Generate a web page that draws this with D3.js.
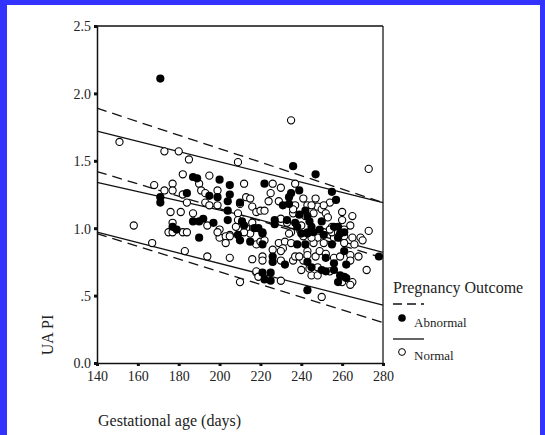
<!DOCTYPE html>
<html>
<head>
<meta charset="utf-8">
<script src="https://cdn.jsdelivr.net/npm/d3@7"></script>
<style>
  html, body { margin: 0; padding: 0; background: #fff; }
  svg text { font-family: "Liberation Serif", "DejaVu Serif", serif; fill: #222; }
</style>
</head>
<body>
<div id="chart"></div>
<script>
// Data ------------------------------------------------------------
// [gestational age (days), UA PI]
const abnormal = [
  [171, 2.11], [236, 1.46], [247, 1.40], [187, 1.38], [189, 1.37], [200, 1.36],
  [205, 1.32], [184, 1.26], [205, 1.25], [199, 1.23], [195, 1.24], [171, 1.23],
  [171, 1.19], [204, 1.20], [204, 1.13], [187, 1.05], [192, 1.07], [197, 1.04],
  [190, 1.05], [204, 1.06], [177, 1.01], [179, 0.99], [190, 0.93], [209, 0.95],
  [212, 1.02], [222, 1.33], [239, 1.28], [255, 1.27], [257, 1.21], [234, 1.23],
  [231, 1.17], [234, 1.18], [242, 1.13], [239, 1.10], [243, 1.09], [227, 1.06],
  [237, 1.04], [244, 1.05], [250, 1.05], [258, 1.01], [219, 1.00], [221, 0.97],
  [243, 0.96], [246, 0.97], [258, 0.93], [210, 0.91], [215, 0.90], [221, 0.96],
  [240, 0.96], [243, 0.97], [251, 0.95], [261, 0.97], [238, 0.88], [242, 0.88],
  [255, 0.88], [261, 0.83], [226, 0.79], [226, 0.75], [232, 0.73], [243, 0.75],
  [245, 0.71], [252, 0.78], [256, 0.74], [262, 0.73], [252, 0.68], [259, 0.65],
  [261, 0.64], [258, 0.60], [221, 0.67], [222, 0.62], [225, 0.67], [243, 0.54],
  [278, 0.79], [210, 1.19], [235, 1.26], [211, 1.05], [217, 1.00], [221, 0.88],
  [227, 1.03], [233, 1.06], [238, 1.01], [245, 1.01], [249, 0.99], [256, 1.01],
  [259, 0.96], [250, 0.69], [256, 0.69], [262, 0.63], [225, 0.61]
];
const normal = [
  [151, 1.64], [235, 1.80], [273, 1.44], [173, 1.57], [180, 1.57], [185, 1.51],
  [209, 1.49], [182, 1.40], [195, 1.39], [177, 1.33], [190, 1.33], [212, 1.33],
  [168, 1.32], [173, 1.28], [177, 1.28], [182, 1.25], [191, 1.28], [193, 1.26],
  [199, 1.28], [213, 1.23], [215, 1.22], [184, 1.19], [193, 1.19], [210, 1.18],
  [199, 1.17], [195, 1.17], [209, 1.11], [216, 1.16], [218, 1.12], [176, 1.12],
  [181, 1.12], [187, 1.11], [177, 1.04], [175, 0.97], [182, 0.97], [194, 1.02],
  [200, 0.99], [208, 1.01], [200, 0.93], [205, 0.95], [213, 1.00], [215, 0.96],
  [226, 1.33], [230, 1.30], [237, 1.33], [225, 1.26], [224, 1.20], [229, 1.20],
  [241, 1.22], [247, 1.22], [254, 1.19], [237, 1.17], [243, 1.17], [248, 1.16],
  [250, 1.14], [220, 1.13], [222, 1.13], [236, 1.11], [246, 1.11], [260, 1.12],
  [265, 1.09], [260, 1.06], [230, 1.07], [233, 1.04], [240, 1.02], [255, 1.01],
  [264, 1.02], [273, 0.98], [235, 0.97], [251, 0.97], [256, 0.93], [248, 0.93],
  [261, 0.94], [269, 0.93], [167, 0.89], [177, 0.97], [184, 0.97], [199, 0.97],
  [203, 0.94], [205, 0.94], [203, 0.89], [212, 0.97], [218, 0.88], [183, 0.83],
  [194, 0.79], [205, 0.78], [216, 0.77], [218, 0.67], [210, 0.60], [158, 1.02],
  [234, 0.96], [255, 0.97], [258, 0.97], [265, 0.93], [220, 0.90], [222, 0.91],
  [229, 0.89], [232, 0.90], [231, 0.85], [246, 0.89], [251, 0.89], [261, 0.89],
  [266, 0.88], [270, 0.91], [243, 0.83], [221, 0.79], [230, 0.76], [236, 0.76],
  [237, 0.79], [241, 0.76], [247, 0.79], [256, 0.78], [259, 0.79], [264, 0.80],
  [268, 0.79], [272, 0.69], [254, 0.68], [240, 0.69], [245, 0.65], [248, 0.65],
  [260, 0.60], [265, 0.60], [218, 0.68], [219, 0.64], [230, 0.61], [250, 0.49],
  [209, 1.06], [216, 1.04], [236, 1.14], [245, 1.17], [251, 1.17], [242, 1.09],
  [252, 1.11], [253, 1.08], [261, 0.99], [254, 0.99], [241, 0.94], [245, 0.93],
  [235, 0.89], [226, 0.84], [230, 0.83], [239, 0.79], [243, 0.80], [249, 0.83],
  [252, 0.81], [221, 0.76], [264, 0.76], [244, 0.70], [248, 0.71], [264, 0.58]
];

// reference lines (solid = normal, dashed = abnormal)
const solidLines = [
  [[140, 1.72], [280, 1.19]],
  [[140, 1.34], [210, 1.10], [280, 0.82]],
  [[140, 0.97], [280, 0.43]]
];
const dashedLines = [
  [[140, 1.89], [280, 1.19]],
  [[140, 1.42], [280, 0.78]],
  [[140, 0.96], [280, 0.30]]
];

const xTicks = [140, 160, 180, 200, 220, 240, 260, 280];
const yTicks = [0, 0.5, 1.0, 1.5, 2.0, 2.5];
const yTickLabels = ["0.0", ".5", "1.0", "1.5", "2.0", "2.5"];

// Layout ----------------------------------------------------------
const W = 545, H = 435;
const plot = { left: 97, right: 383, top: 26, bottom: 363 };

const svg = d3.select("#chart").append("svg")
  .attr("width", W).attr("height", H);

svg.append("rect").attr("width", W).attr("height", H).attr("fill", "#fff");
// blue frame of the screenshot
svg.append("rect").attr("x", 0).attr("y", 0).attr("width", W).attr("height", 5).attr("fill", "#3333ff");
svg.append("rect").attr("x", 0).attr("y", 0).attr("width", 7).attr("height", H).attr("fill", "#3333ff");
svg.append("rect").attr("x", 540).attr("y", 0).attr("width", 5).attr("height", H).attr("fill", "#3333ff");

const x = d3.scaleLinear().domain([140, 280]).range([plot.left, plot.right]);
const y = d3.scaleLinear().domain([0, 2.5]).range([plot.bottom, plot.top]);

// frame
svg.append("line").attr("x1", plot.right).attr("x2", plot.right)
  .attr("y1", plot.top).attr("y2", plot.bottom)
  .attr("stroke", "#6a6a6a").attr("stroke-width", 2);
svg.append("line").attr("x1", plot.left).attr("x2", plot.right)
  .attr("y1", plot.top).attr("y2", plot.top)
  .attr("stroke", "#111").attr("stroke-width", 1.3);

// axes
const xAxis = svg.append("g")
  .attr("transform", "translate(0," + plot.bottom + ")")
  .call(d3.axisBottom(x).tickValues(xTicks).tickSize(3).tickPadding(5));
const yAxis = svg.append("g")
  .attr("transform", "translate(" + plot.left + ",0)")
  .call(d3.axisLeft(y).tickValues(yTicks).tickSize(3).tickPadding(3)
    .tickFormat((d, i) => yTickLabels[i]));

[xAxis, yAxis].forEach(g => {
  g.select(".domain").attr("stroke", "#111").attr("stroke-width", 1.5);
  g.selectAll(".tick line").attr("stroke", "#111").attr("stroke-width", 3);
  g.selectAll(".tick text")
    .style("font-family", "'Liberation Serif', serif")
    .style("font-size", "14px").attr("fill", "#333");
});
yAxis.selectAll(".tick text").attr("dy", "0.35em");

// lines
const line = d3.line().x(d => x(d[0])).y(d => y(d[1]));
svg.selectAll(".solid").data(solidLines).enter().append("path")
  .attr("d", line).attr("fill", "none")
  .attr("stroke", "#111").attr("stroke-width", 1.3);
svg.selectAll(".dashed").data(dashedLines).enter().append("path")
  .attr("d", line).attr("fill", "none")
  .attr("stroke", "#111").attr("stroke-width", 1.3)
  .attr("stroke-dasharray", "10,6");

// points
svg.selectAll(".normal").data(normal).enter().append("circle")
  .attr("cx", d => x(d[0])).attr("cy", d => y(d[1])).attr("r", 3.6)
  .attr("fill", "#fff").attr("stroke", "#000").attr("stroke-width", 1.1);
svg.selectAll(".abnormal").data(abnormal).enter().append("circle")
  .attr("cx", d => x(d[0])).attr("cy", d => y(d[1])).attr("r", 4.1)
  .attr("fill", "#000");

// axis titles
svg.append("text")
  .attr("transform", "translate(53,335) rotate(-90)")
  .attr("text-anchor", "middle")
  .style("font-size", "16px").text("UA PI");
svg.append("text")
  .attr("x", 98).attr("y", 426)
  .style("font-size", "16px").text("Gestational age (days)");

// legend
const lg = svg.append("g");
lg.append("text").attr("x", 393).attr("y", 293)
  .style("font-size", "16px").text("Pregnancy Outcome");
lg.append("line").attr("x1", 393).attr("x2", 424).attr("y1", 304).attr("y2", 304)
  .attr("stroke", "#111").attr("stroke-width", 1.3).attr("stroke-dasharray", "9,5");
lg.append("circle").attr("cx", 402).attr("cy", 318).attr("r", 3.8).attr("fill", "#000");
lg.append("text").attr("x", 414).attr("y", 327)
  .style("font-size", "13px").text("Abnormal");
lg.append("line").attr("x1", 393).attr("x2", 424).attr("y1", 339).attr("y2", 339)
  .attr("stroke", "#111").attr("stroke-width", 1.3);
lg.append("circle").attr("cx", 402).attr("cy", 352).attr("r", 3.4)
  .attr("fill", "#fff").attr("stroke", "#000").attr("stroke-width", 1);
lg.append("text").attr("x", 414).attr("y", 360)
  .style("font-size", "13px").text("Normal");
</script>
</body>
</html>
